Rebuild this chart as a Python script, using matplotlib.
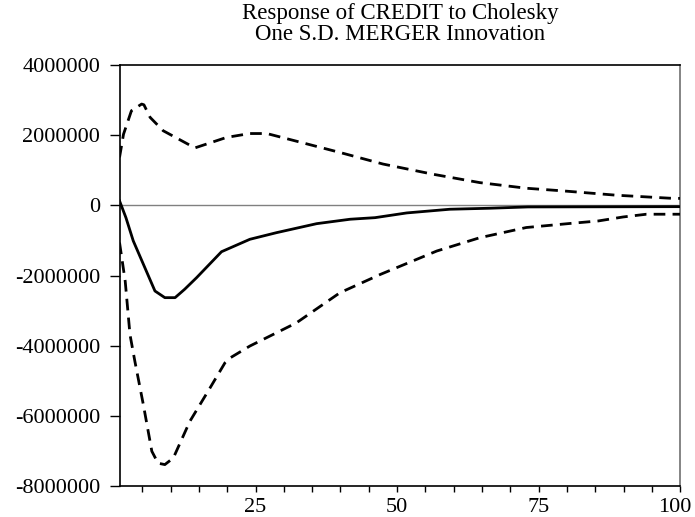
import numpy as np
import matplotlib
matplotlib.use("Agg")
import matplotlib.pyplot as plt
import matplotlib.transforms as mtransforms

plt.rcParams["font.family"] = ["Liberation Serif", "DejaVu Serif"]

# impulse response of CREDIT (knots)
resp_t = [1, 2.13, 3.42, 7.25, 9.0, 10.8, 12.5, 14.6, 19.0, 24.0, 28.7, 35.8,
          41.7, 46.1, 51.7, 59.3, 66.4, 73.1, 100]
resp_v = [130000, -350000, -1010000, -2440000, -2630000, -2630000, -2390000,
          -2060000, -1320000, -966000, -777000, -520000, -394000, -349000,
          -214000, -109000, -80000, -43000, -35000]

# upper band (+2 S.E.)
upper_t = [1, 1.7, 3.1, 4.9, 5.3, 6.4, 8.7, 14.3, 19.9, 24.0, 27.0, 39.9,
           47.5, 56.3, 64.6, 72.8, 79.3, 88.7, 98.1, 100]
upper_v = [1370000, 2030000, 2700000, 2890000, 2870000, 2510000, 2130000,
           1640000, 1940000, 2050000, 2050000, 1510000, 1180000, 890000,
           650000, 490000, 414000, 291000, 206000, 200000]

# lower band (-2 S.E.)
lower_t = [1, 2.0, 2.84, 3.7, 5.2, 6.7, 7.8, 9.0, 10.5, 13.4, 16.95, 19.6,
           20.5, 24.0, 32.2, 39.9, 47.0, 57.0, 64.6, 72.8, 80.8, 85.5, 89.9,
           94.0, 100]
lower_v = [-1060000, -2160000, -3680000, -4440000, -5680000, -7010000,
           -7350000, -7390000, -7200000, -6160000, -5210000, -4490000,
           -4350000, -4010000, -3350000, -2490000, -1970000, -1300000,
           -920000, -630000, -510000, -443000, -329000, -251000, -251000]

y_ticks = [4000000, 2000000, 0, -2000000, -4000000, -6000000, -8000000]
x_ticks = [25, 50, 75, 100]

fig = plt.figure(figsize=(6.95, 5.17), dpi=100)
ax = fig.add_axes([0.172, 0.060, 0.807, 0.814])

ax.axhline(0, color="#808080", lw=1.0, zorder=1)
ax.plot(resp_t, resp_v, color="black", lw=2.0, zorder=3)
ax.plot(upper_t, upper_v, color="black", lw=2.0, linestyle=(0, (4.2, 2.6)), zorder=3)
ax.plot(lower_t, lower_v, color="black", lw=2.0, linestyle=(0, (4.2, 2.6)), zorder=3)

ax.set_xlim(1, 100)
ax.set_ylim(-8000000, 4000000)
ax.set_yticks(y_ticks)
ax.set_yticklabels([str(v) for v in y_ticks])
ax.set_xticks(x_ticks)
ax.set_xticks(np.arange(5, 100, 5), minor=True)

ax.tick_params(axis="y", direction="out", length=7, width=1, pad=7, labelsize=16)
ax.tick_params(axis="x", which="both", direction="out", length=4.5, width=1,
               pad=4, labelsize=16)

# keep the last x label inside the canvas
last = ax.get_xticklabels()[-1]
last.set_transform(last.get_transform() +
                   mtransforms.ScaledTranslation(-4 / 72, 0, fig.dpi_scale_trans))

for s in ["left", "top", "bottom"]:
    ax.spines[s].set_color("black")
    ax.spines[s].set_linewidth(1.2)
ax.spines["right"].set_color("#707070")
ax.spines["right"].set_linewidth(1.2)

fig.text(0.576, 0.964, "Response of CREDIT to Cholesky", ha="center", va="baseline", fontsize=16.5)
fig.text(0.576, 0.923, "One S.D. MERGER Innovation", ha="center", va="baseline", fontsize=16.5)

fig.savefig("out.png", dpi=100)
